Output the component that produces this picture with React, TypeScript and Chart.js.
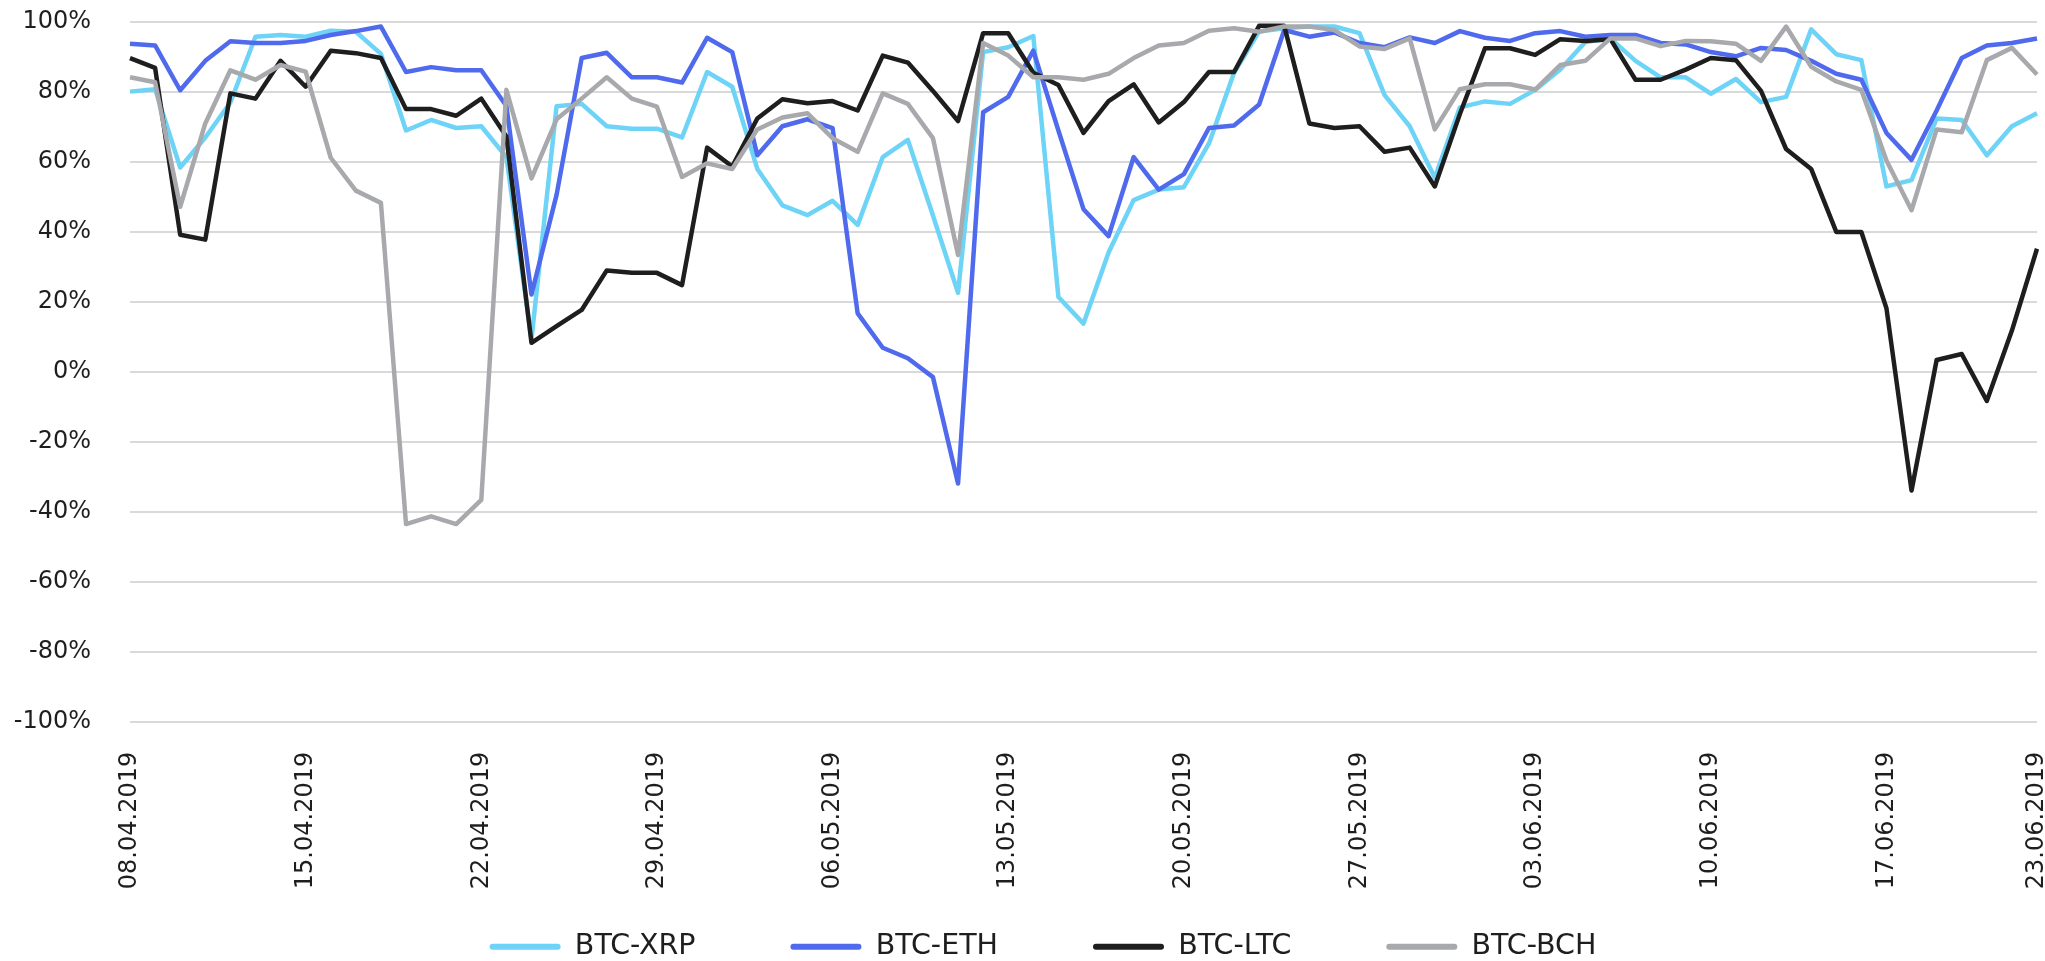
import React, { useEffect, useRef } from 'react';
import { Chart, registerables } from 'chart.js';

Chart.register(...registerables);

const dates = [
  '08.04.2019', '09.04.2019', '10.04.2019', '11.04.2019', '12.04.2019', '13.04.2019', '14.04.2019',
  '15.04.2019', '16.04.2019', '17.04.2019', '18.04.2019', '19.04.2019', '20.04.2019', '21.04.2019',
  '22.04.2019', '23.04.2019', '24.04.2019', '25.04.2019', '26.04.2019', '27.04.2019', '28.04.2019',
  '29.04.2019', '30.04.2019', '01.05.2019', '02.05.2019', '03.05.2019', '04.05.2019', '05.05.2019',
  '06.05.2019', '07.05.2019', '08.05.2019', '09.05.2019', '10.05.2019', '11.05.2019', '12.05.2019',
  '13.05.2019', '14.05.2019', '15.05.2019', '16.05.2019', '17.05.2019', '18.05.2019', '19.05.2019',
  '20.05.2019', '21.05.2019', '22.05.2019', '23.05.2019', '24.05.2019', '25.05.2019', '26.05.2019',
  '27.05.2019', '28.05.2019', '29.05.2019', '30.05.2019', '31.05.2019', '01.06.2019', '02.06.2019',
  '03.06.2019', '04.06.2019', '05.06.2019', '06.06.2019', '07.06.2019', '08.06.2019', '09.06.2019',
  '10.06.2019', '11.06.2019', '12.06.2019', '13.06.2019', '14.06.2019', '15.06.2019', '16.06.2019',
  '17.06.2019', '18.06.2019', '19.06.2019', '20.06.2019', '21.06.2019', '22.06.2019', '23.06.2019',
];

const tickLabels = [
  '08.04.2019', '15.04.2019', '22.04.2019', '29.04.2019', '06.05.2019', '13.05.2019',
  '20.05.2019', '27.05.2019', '03.06.2019', '10.06.2019', '17.06.2019', '23.06.2019',
];

const seriesNames = ['BTC-XRP', 'BTC-ETH', 'BTC-LTC', 'BTC-BCH'];

const btcXrp = [
  80.1, 80.8, 58.4, 67, 77, 95.8, 96.3, 95.8, 97.5, 97.2, 90.9, 69, 72, 69.7,
  70.2, 61.4, 9.3, 75.9, 76.6, 70.2, 69.5, 69.5, 67, 85.7, 81.5, 58, 47.6, 44.8,
  48.9, 42, 61.4, 66.3, 44.7, 22.6, 91.4, 92.8, 96, 21.4, 13.8, 34.1, 49.1, 52.1,
  52.8, 65.3, 85.5, 97.3, 98.2, 98.7, 98.7, 96.8, 79.1, 70.2, 55.5, 75.6, 77.3, 76.6,
  80.6, 86.4, 94.3, 95.3, 88.9, 84.2, 84.2, 79.5, 83.7, 77.1, 78.6, 97.9, 90.8, 89.1,
  53, 54.8, 72.4, 72, 61.9, 70.2, 73.9,
];

const btcEth = [
  93.8, 93.3, 80.5, 88.9, 94.5, 94, 94, 94.6, 96.3, 97.4, 98.7, 85.7, 87.1, 86.2,
  86.2, 76, 22.1, 50.6, 89.7, 91.2, 84.2, 84.2, 82.7, 95.5, 91.4, 61.9, 70.2, 72.2,
  69.7, 16.7, 6.9, 3.9, -1.5, -31.9, 74.2, 78.6, 91.8, 69, 46.5, 38.8, 61.4, 52.1,
  56.5, 69.7, 70.4, 76.4, 97.7, 95.8, 97, 94, 92.8, 95.6, 94, 97.4, 95.5, 94.6,
  96.8, 97.4, 95.8, 96.3, 96.3, 94, 93.6, 91.4, 90.2, 92.6, 92, 88.9, 85.2, 83.5,
  68.3, 60.6, 74.7, 89.7, 93.3, 94, 95.3,
];

const btcLtc = [
  89.7, 86.9, 39.2, 37.8, 79.6, 78.1, 88.9, 81.5, 91.8, 91.1, 89.7, 75.1, 75.1, 73.2,
  78.1, 67.3, 8.3, 13.1, 17.7, 29, 28.3, 28.3, 24.8, 64.1, 58.7, 72.4, 77.9, 76.8,
  77.4, 74.7, 90.4, 88.4, 80.3, 71.7, 96.8, 96.8, 85.5, 82, 68.3, 77.4, 82.2, 71.3,
  77.1, 85.7, 85.7, 98.9, 98.9, 71, 69.7, 70.2, 62.9, 64.1, 53, 73.7, 92.5, 92.5,
  90.6, 95.1, 94.6, 95.1, 83.5, 83.5, 86.4, 89.7, 89.1, 80.3, 63.7, 58, 40, 40,
  18.2, -33.9, 3.4, 5.1, -8.3, 11.8, 35.2,
];

const btcBch = [
  84.2, 82.8, 47.2, 71, 86.2, 83.5, 87.7, 85.8, 61.2, 51.8, 48.3, -43.5, -41.3, -43.5,
  -36.6, 80.6, 55.3, 72.2, 78.1, 84.2, 78.1, 75.8, 55.7, 59.6, 58, 69.3, 72.7, 73.9,
  66.8, 62.9, 79.6, 76.6, 66.8, 33.4, 94, 90.4, 84.2, 84.2, 83.5, 85.2, 89.7, 93.3,
  94, 97.5, 98.2, 97.2, 98.7, 98.7, 97.7, 93, 92.3, 95.3, 69.3, 80.8, 82.2, 82.2,
  80.7, 87.7, 88.9, 95.3, 95.3, 93.1, 94.6, 94.5, 93.8, 88.9, 98.7, 87.2, 83, 80.6,
  60.4, 46.2, 69.3, 68.5, 89.1, 92.6, 85,
];

const seriesValues = [btcXrp, btcEth, btcLtc, btcBch];
const seriesColors = ['#6DD3F7', '#4F6AEC', '#1E1E1E', '#A8A9AD'];
const drawOrder = [4, 3, 2, 1];

export default function App() {
  const ref = useRef<HTMLCanvasElement>(null);

  useEffect(() => {
    const FONT = "'DejaVu Sans', sans-serif";
    const LEGEND_PAD = 95;
    const noClip = (s: any) => {
      s._computeLabelArea = () => undefined;
    };
    const chart = new Chart(ref.current as HTMLCanvasElement, {
      type: 'line',
      data: {
        labels: dates,
        datasets: seriesNames.map((name, i) => ({
          label: name,
          data: seriesValues[i],
          borderColor: seriesColors[i],
          backgroundColor: seriesColors[i],
          borderWidth: 4.5,
          borderJoinStyle: 'round',
          pointRadius: 0,
          pointHoverRadius: 0,
          tension: 0,
          fill: false,
          order: drawOrder[i],
        })),
      },
      options: {
        animation: false,
        responsive: false,
        layout: { padding: { left: 49, right: 8, top: 22, bottom: -10 } },
        plugins: {
          tooltip: { enabled: false },
          legend: {
            position: 'bottom',
            labels: {
              boxWidth: 71,
              boxHeight: 6,
              padding: LEGEND_PAD,
              color: '#1E1E1E',
              font: { family: FONT, size: 28.5 },
              useBorderRadius: true,
              borderRadius: 3,
              generateLabels: (c: any) => {
                const items = (Chart as any).defaults.plugins.legend.labels.generateLabels(c);
                return items
                  .sort((a: any, b: any) => a.datasetIndex - b.datasetIndex)
                  .map((it: any) => ({ ...it, fillStyle: it.strokeStyle, lineWidth: 0 }));
              },
            },
          },
        },
        scales: {
          x: {
            grid: { display: false },
            border: { display: false },
            ticks: {
              autoSkip: false,
              minRotation: 90,
              maxRotation: 90,
              padding: 22,
              color: '#1E1E1E',
              font: { family: FONT, size: 24 },
              callback: (_v: any, i: number) => (tickLabels.includes(dates[i]) ? dates[i] : ''),
            },
            afterFit: (s: any) => {
              s.height = 947 - 14.25 - LEGEND_PAD - 722;
              s.paddingLeft = 0;
              s.paddingRight = 0;
              noClip(s);
            },
          },
          y: {
            min: -100,
            max: 100,
            ticks: {
              stepSize: 20,
              padding: 39,
              color: '#1E1E1E',
              font: { family: FONT, size: 24 },
              callback: (v: any) => v + '%',
            },
            grid: { color: '#D9D9D9', lineWidth: 2, drawTicks: false },
            border: { display: false },
            afterFit: (s: any) => {
              s.width = 81;
              s.paddingTop = 0;
              s.paddingBottom = 0;
              noClip(s);
            },
          },
        },
      },
    } as any);
    return () => chart.destroy();
  }, []);

  return (
    <div style={{ position: 'absolute', left: 0, top: 0, width: 2045, height: 961, background: '#ffffff' }}>
      <canvas ref={ref} width={2045} height={961} style={{ display: 'block' }} />
    </div>
  );
}
